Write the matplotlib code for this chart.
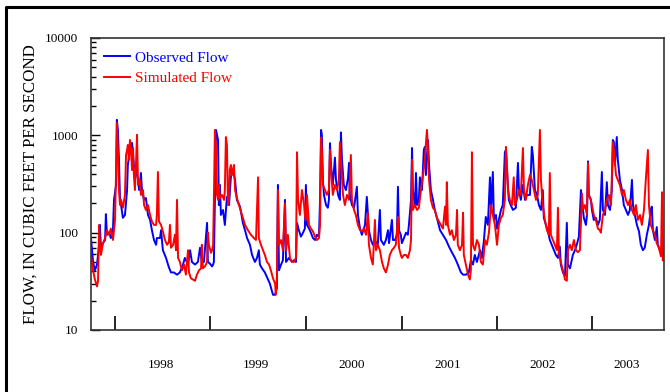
import numpy as np
import pandas as pd
import matplotlib
matplotlib.use("Agg")
import matplotlib.pyplot as plt
import matplotlib.dates as mdates
from matplotlib.lines import Line2D
from matplotlib.ticker import FuncFormatter, LogLocator, FixedLocator, FixedFormatter, NullFormatter

# daily flow record, water years 1998-2003 (days counted from 1 Oct 1997)
start = pd.Timestamp("1997-10-01")

obs_day = [0, 8, 15, 23, 31, 34, 38, 46, 54, 57, 61, 69, 76, 84, 88, 96, 99, 103, 107, 111,
           115, 122, 130, 138, 141, 149, 153, 157, 161, 164, 172, 180, 184, 191, 195, 203, 210, 218, 226, 233,
           241, 249, 252, 264, 268, 275, 287, 298, 306, 317, 329, 340, 352, 359, 371, 379, 386, 398, 409, 417,
           424, 432, 444, 447, 455, 463, 467,
           470, 474, 478, 482, 486, 489, 493, 497, 505, 512, 520, 528, 535, 543, 551, 558, 570, 581, 589, 597,
           608, 616, 627, 635, 642, 646, 654, 665, 677, 684, 696, 704, 711, 715, 719, 727, 734, 742, 746, 757,
           769, 776, 784, 788, 795, 803, 811, 818,
           822, 826, 834, 841, 849, 857, 864, 872, 876, 880, 883, 887, 891, 899, 906, 910, 914, 918, 925, 933,
           937, 945, 952, 956, 960, 967, 975, 983, 987, 990, 998, 1006, 1017, 1021, 1029, 1036, 1048, 1055, 1063, 1071,
           1078, 1090, 1097, 1105, 1109, 1120, 1128, 1136, 1140, 1151, 1155, 1163, 1170, 1174, 1178, 1185,
           1189, 1197, 1205, 1212, 1216, 1224, 1228, 1231, 1239, 1243, 1247, 1254, 1258, 1266, 1273, 1277, 1281, 1289,
           1293, 1300, 1308, 1315, 1323, 1335, 1346, 1358, 1369, 1380, 1392, 1403, 1415, 1423, 1434, 1445, 1453, 1461,
           1468, 1476, 1488, 1495, 1503, 1510, 1518, 1526, 1530, 1537, 1541, 1549,
           1553, 1560, 1568, 1575, 1583, 1587, 1591, 1598, 1606, 1614, 1625, 1633, 1637, 1644, 1652, 1660, 1667, 1679,
           1686, 1690, 1698, 1706, 1713, 1721, 1728, 1732, 1740, 1748, 1755, 1767, 1778, 1786, 1793, 1797, 1805, 1813,
           1820, 1824, 1832, 1843, 1851, 1858, 1866, 1874, 1878, 1885, 1893, 1897, 1901, 1904, 1912,
           1916, 1923, 1931, 1939, 1946, 1954, 1958, 1966, 1973, 1977, 1985, 1992, 1996, 2000, 2004, 2011, 2015, 2023,
           2031, 2038, 2046, 2054, 2061, 2069, 2073, 2080, 2088, 2096, 2103, 2111, 2118, 2126, 2134, 2141, 2145, 2149,
           2157, 2164, 2168, 2176, 2184, 2191]
obs_cfs = [88, 50, 41, 47, 75, 120, 70, 78, 84, 155, 95, 100, 88, 106, 217, 309, 1440, 1135, 560, 217,
           192, 142, 152, 274, 496, 707, 796, 835, 628, 496, 440, 348, 274, 410, 274, 217, 227, 152, 135, 106,
           84, 75, 88, 88, 106, 66, 55, 44, 39, 39, 37, 39, 47, 55, 47, 66, 50, 47, 50, 70,
           50, 50, 126, 50, 48, 45, 47,
           50, 217, 1135, 1010, 895, 192, 309, 152, 171, 120, 233, 192, 370, 440, 348, 217, 185, 126, 106, 88,
           75, 59, 50, 55, 66, 47, 43, 39, 33, 30, 23, 23, 27, 309, 41, 47, 52, 217, 50, 55,
           50, 52, 50, 126, 106, 91, 100, 110,
           309, 120, 110, 100, 88, 84, 95, 91, 217, 1135, 1010, 348, 244, 192, 180, 217, 830, 496, 309, 590,
           348, 244, 217, 1070, 560, 309, 274, 363, 520, 244, 192, 180, 296, 152, 110, 95, 120, 233, 106, 84,
           75, 80, 75, 171, 84, 75, 84, 106, 78, 135, 84, 84, 95, 296, 106, 95,
           78, 88, 100, 95, 120, 217, 740, 274, 192, 410, 192, 217, 370, 274, 707, 760, 391, 895,
           496, 274, 217, 171, 142, 106, 95, 84, 72, 63, 55, 47, 39, 37, 37, 39, 52, 47,
           59, 50, 66, 55, 84, 145, 120, 370, 171, 420, 135, 152,
           110, 135, 171, 192, 670, 707, 440, 217, 190, 171, 180, 520, 274, 217, 309, 217, 244, 244,
           760, 628, 274, 244, 192, 171, 274, 142, 120, 103, 84, 70, 59, 55, 72, 47, 39, 36,
           126, 47, 43, 59, 66, 75, 91, 274, 217, 142, 120, 152, 540, 244, 217,
           171, 135, 142, 120, 135, 420, 171, 152, 330, 192, 171, 274, 895, 850, 496, 960, 560, 348,
           274, 192, 171, 152, 171, 348, 192, 152, 120, 103, 75, 66, 70, 95, 120, 171, 185, 106,
           84, 114, 75, 66, 59, 63]

sim_day = [0, 8, 15, 23, 27, 31, 34, 38, 46, 54, 61, 69, 76, 84, 92, 96, 99, 103, 107, 111,
           115, 122, 130, 134, 138, 141, 145, 149, 153, 157, 161, 164, 168, 172, 176, 180, 187, 191, 199, 203,
           210, 218, 226, 233, 241, 249, 252, 256, 260, 268, 275, 283, 291, 298, 302, 306, 314, 321, 325, 329,
           333, 340, 348, 356, 363, 371, 375, 382, 390, 398, 405, 413, 421, 424, 428, 436, 444, 447, 451, 459, 463,
           467, 470, 474, 478, 482, 486, 489, 493, 501, 509, 512, 516, 520, 524, 528, 531, 535, 539, 547, 551,
           558, 566, 574, 581, 589, 600, 612, 623, 631, 639, 642, 650, 658, 665, 673, 681, 688, 696, 704, 707,
           711, 715, 719, 727, 734, 742, 746, 753, 761, 769, 776, 784, 788, 792, 799, 807, 815, 818,
           822, 826, 834, 841, 849, 857, 864, 872, 876, 880, 883, 887, 895, 902, 910, 914, 918, 925, 933, 941,
           948, 952, 956, 964, 971, 979, 987, 994, 998, 1006, 1013, 1021, 1029, 1036, 1044, 1052, 1059, 1063, 1071, 1078,
           1086, 1090, 1097, 1105, 1113, 1120, 1128, 1136, 1143, 1151, 1159, 1166, 1174, 1178, 1185,
           1189, 1197, 1205, 1212, 1220, 1224, 1228, 1231, 1239, 1247, 1254, 1262, 1270, 1277, 1281, 1285, 1289, 1293,
           1300, 1308, 1315, 1323, 1331, 1338, 1346, 1354, 1358, 1361, 1365, 1373, 1380, 1388, 1396, 1400, 1403, 1411,
           1419, 1423, 1426, 1434, 1442, 1449, 1453, 1457, 1461, 1468, 1476, 1484, 1491, 1499, 1507, 1514, 1522, 1530,
           1537, 1545,
           1553, 1560, 1568, 1575, 1583, 1587, 1591, 1595, 1602, 1610, 1617, 1621, 1629, 1637, 1644, 1652, 1656, 1663,
           1671, 1679, 1686, 1694, 1702, 1709, 1717, 1721, 1728, 1736, 1744, 1751, 1755, 1759, 1767, 1774, 1782, 1786,
           1790, 1797, 1805, 1813, 1820, 1824, 1832, 1839, 1847, 1855, 1862, 1870, 1878, 1881, 1889, 1897, 1901, 1904,
           1912,
           1916, 1923, 1931, 1939, 1946, 1950, 1958, 1966, 1973, 1981, 1989, 1996, 2000, 2008, 2015, 2023, 2031, 2038,
           2046, 2054, 2061, 2069, 2077, 2084, 2092, 2100, 2107, 2115, 2122, 2130, 2134, 2141, 2149, 2157, 2164, 2172,
           2180, 2184, 2187]
sim_cfs = [59, 41, 33, 28, 32, 120, 75, 59, 78, 88, 106, 95, 110, 84, 135, 440, 1340, 707, 274, 192,
           217, 180, 244, 628, 707, 796, 560, 895, 707, 440, 740, 391, 274, 496, 1010, 309, 348, 244, 274, 192,
           171, 192, 152, 130, 120, 120, 152, 420, 130, 120, 103, 84, 75, 80, 120, 70, 75, 95, 66, 217,
           55, 50, 41, 47, 37, 66, 39, 34, 33, 32, 37, 41, 43, 75, 43, 45, 50, 100, 75, 62, 66,
           75, 217, 1135, 707, 244, 217, 309, 227, 244, 217, 274, 960, 796, 192, 217, 440, 496, 391, 496, 274,
           227, 192, 164, 142, 120, 106, 95, 88, 84, 370, 88, 75, 66, 59, 50, 47, 41, 34, 30, 23,
           33, 274, 75, 84, 66, 200, 66, 95, 55, 50, 50, 55, 670, 217, 152, 274, 192, 152,
           135, 244, 120, 110, 103, 91, 84, 88, 120, 950, 707, 309, 274, 244, 274, 707, 440, 244, 309, 274,
           348, 850, 560, 244, 192, 244, 217, 628, 217, 171, 152, 120, 106, 103, 110, 95, 160, 75, 55, 47,
           135, 66, 75, 66, 50, 43, 39, 47, 59, 66, 70, 75, 145, 70, 59,
           55, 59, 59, 55, 66, 84, 560, 171, 192, 171, 180, 274, 391, 560, 830, 1135, 707, 348,
           217, 180, 171, 142, 130, 120, 110, 185, 120, 330, 120, 95, 106, 84, 95, 171, 75, 66,
           75, 160, 59, 47, 37, 33, 41, 670, 75, 66, 84, 75, 50, 47, 84, 75, 100, 192,
           152, 120,
           75, 120, 142, 152, 217, 760, 496, 274, 217, 192, 370, 192, 217, 274, 244, 740, 274, 217,
           309, 391, 348, 274, 217, 244, 1135, 348, 192, 135, 106, 95, 410, 95, 84, 75, 66, 180,
           59, 50, 41, 33, 32, 66, 75, 66, 84, 66, 63, 66, 250, 171, 192, 152, 520, 244,
           217,
           192, 152, 135, 110, 106, 100, 152, 171, 217, 244, 192, 850, 707, 391, 348, 309, 244, 274,
           217, 192, 217, 171, 152, 192, 135, 152, 120, 171, 348, 707, 192, 120, 106, 95, 78, 70,
           57, 260, 52]

year_labels = ["1998", "1999", "2000", "2001", "2002", "2003"]
label_dates = ["1998-06-25", "1999-06-25", "2000-06-25", "2001-06-25", "2002-06-25", "2003-05-10"]

obs_t = start + pd.to_timedelta(obs_day, unit="D")
sim_t = start + pd.to_timedelta(sim_day, unit="D")

fig = plt.figure(figsize=(6.7, 3.92), dpi=100)
ax = fig.add_axes([0.1358, 0.1582, 0.855, 0.745])

ax.plot(obs_t, obs_cfs, color="#0000ff", lw=1.4, label="Observed Flow")
ax.plot(sim_t, sim_cfs, color="#ff0000", lw=1.4, label="Simulated Flow")

ax.set_yscale("log")
ax.set_ylim(10, 10000)
ax.set_xlim(start, pd.Timestamp("2003-10-01"))

serif = ["Liberation Serif", "DejaVu Serif"]

ax.yaxis.set_major_locator(FixedLocator([10, 100, 1000, 10000]))
ax.yaxis.set_minor_locator(LogLocator(base=10, subs=np.arange(2, 10)))
ax.yaxis.set_major_formatter(FuncFormatter(lambda v, p: f"{v:g}"))
ax.yaxis.set_minor_formatter(NullFormatter())
ax.tick_params(axis="y", which="major", direction="in", length=6.5, width=1.0, pad=9, labelsize=9.5)
ax.tick_params(axis="y", which="minor", direction="in", length=3.5, width=1.0)

ax.xaxis.set_major_locator(mdates.YearLocator())
ax.xaxis.set_major_formatter(NullFormatter())
ax.xaxis.set_minor_locator(FixedLocator(mdates.date2num(pd.to_datetime(label_dates))))
ax.xaxis.set_minor_formatter(FixedFormatter(year_labels))
ax.tick_params(axis="x", which="major", direction="in", length=10, width=1.2)
ax.tick_params(axis="x", which="minor", length=0, pad=21, labelsize=9.5)

for lab in ax.get_xticklabels(minor=True) + ax.get_yticklabels():
    lab.set_family(serif)

for s in ax.spines.values():
    s.set_color("#333333")
    s.set_linewidth(1.2)

ax.set_ylabel("FLOW, IN CUBIC FEET PER SECOND", family=serif, fontsize=12.2, labelpad=5)

leg = ax.legend(loc="upper left", frameon=False, prop={"family": serif, "size": 11},
                handlelength=1.7, handletextpad=0.35, labelspacing=0.45,
                borderaxespad=0.45, labelcolor="linecolor")

# outer frame of the figure (left and top edges)
fig.add_artist(Line2D([0.009, 0.009, 1.0], [0.0, 0.981, 0.981], color="black", lw=2.2,
                      transform=fig.transFigure))

fig.savefig("out.png", dpi=100)
